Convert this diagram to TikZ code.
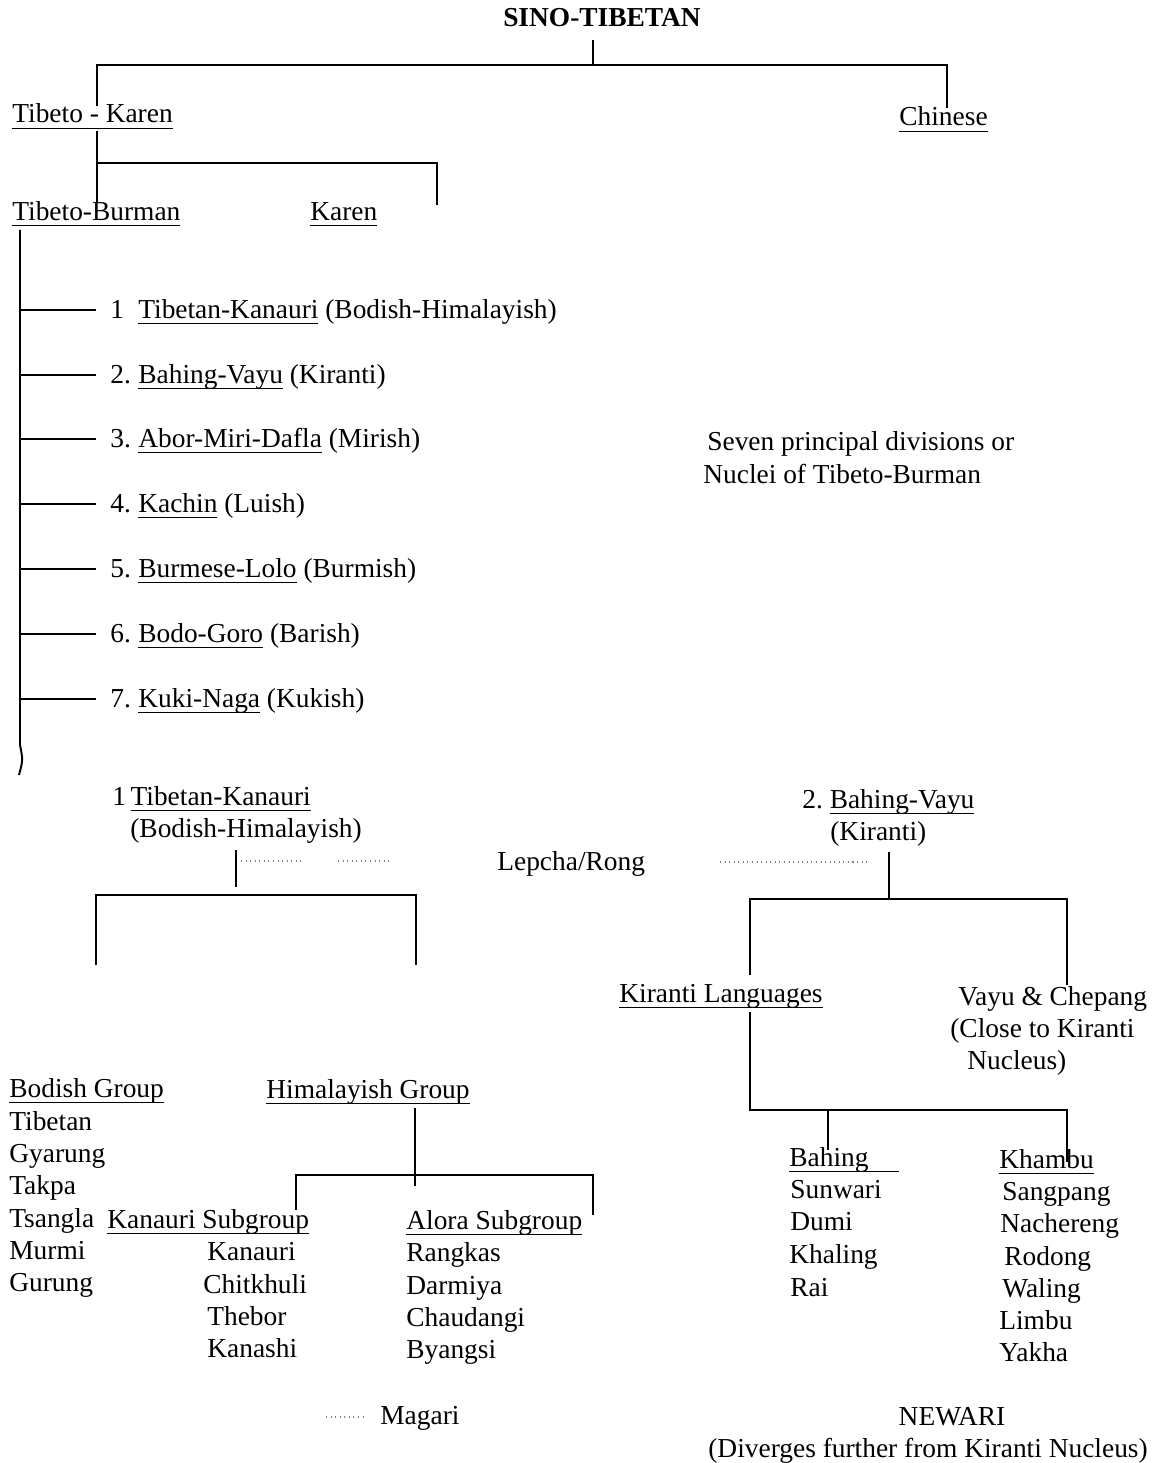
\documentclass[tikz,border=0pt]{standalone}
\usepackage{fontspec}
\setmainfont{Liberation Serif}
\newcommand\fsz{\fontsize{15.6pt}{18pt}\selectfont}
\newcommand\undl[1]{\setbox0\hbox{#1}\rlap{\rule[-3.6pt]{\wd0}{0.75pt}}\box0\relax}
\newcommand\numbox[1]{\hbox to 0.56cm{#1\hfil}}
\tikzset{
  lbl/.style={anchor=base west, inner sep=0pt, font=\fsz},
  lbc/.style={anchor=base, inner sep=0pt, font=\fsz},
  conn/.style={line width=1.1pt, black},
  dotln/.style={dotted, line width=0.6pt, gray}
}
\begin{document}
\begin{tikzpicture}[x=0.02cm,y=-0.02cm]
\useasboundingbox (0,0) rectangle (1156,1463);
% ---------- top levels
\node[lbc,font=\fsz\bfseries] (ST) at (602,27) {SINO-TIBETAN};
\node[lbl] (TK) at (12,123) {\undl{Tibeto - Karen}};
\node[lbl] (CH) at (899,126) {\undl{Chinese}};
\node[lbl] (TB) at (12,220) {\undl{Tibeto-Burman}};
\node[lbl] (KA) at (310,220) {\undl{Karen}};
% junction coordinates
\coordinate (s0) at (593,40);
\coordinate (s1) at (593,65);
\coordinate (l1) at (97,65);
\coordinate (r1) at (947,65);
\coordinate (tkin) at (97,106);
\coordinate (chin) at (947,108);
\draw[conn] (s0) -- (s1);
\draw[conn] (tkin) -- (l1) -- (r1) -- (chin);
\coordinate (tkout) at (97,131);
\coordinate (tbin) at (97,203);
\coordinate (j2) at (97,163);
\coordinate (r2) at (437,163);
\coordinate (kain) at (437,205);
\draw[conn] (tkout) -- (tbin);
\draw[conn] (j2) -- (r2) -- (kain);
% ---------- seven nuclei
\coordinate (tbout) at (20,230);
\coordinate (tbend) at (20,745);
\coordinate (tbtail) at (19,775);
\draw[conn] (tbout) -- (tbend) .. controls (23,760) .. (tbtail);
\foreach \n/\y/\txt in {1/318/{\numbox{1}\undl{Tibetan-Kanauri} (Bodish-Himalayish)},
                       2/383/{\numbox{2.}\undl{Bahing-Vayu} (Kiranti)},
                       3/447/{\numbox{3.}\undl{Abor-Miri-Dafla} (Mirish)},
                       4/512/{\numbox{4.}\undl{Kachin} (Luish)},
                       5/577/{\numbox{5.}\undl{Burmese-Lolo} (Burmish)},
                       6/642/{\numbox{6.}\undl{Bodo-Goro} (Barish)},
                       7/707/{\numbox{7.}\undl{Kuki-Naga} (Kukish)}}{
  \node[lbl] (i\n) at (110,\y) {\txt};
  \coordinate (b\n) at (20,\y-8);
  \coordinate (e\n) at (96,\y-8);
  \draw[conn] (b\n) -- (e\n);
}
\node[lbl] (sev) at (707,450) {Seven principal divisions or};
\node[lbl] (nuc) at (703,483) {Nuclei of Tibeto-Burman};
% ---------- Tibetan-Kanauri branch
\node[lbl] (tka) at (112,805) {1\,\undl{Tibetan-Kanauri}};
\node[lbl] (tkb) at (130,837) {(Bodish-Himalayish)};
\node[lbl] (lep) at (497,870) {Lepcha/Rong};
\coordinate (tks0) at (236,850);
\coordinate (tks1) at (236,887);
\draw[conn] (tks0) -- (tks1);
\coordinate (d1a) at (241,861);
\coordinate (d1b) at (302,861);
\coordinate (d1c) at (338,861);
\coordinate (d1d) at (392,861);
\draw[dotln] (d1a) -- (d1b);
\draw[dotln] (d1c) -- (d1d);
\coordinate (bxl) at (96,965);
\coordinate (bxtl) at (96,895);
\coordinate (bxtr) at (416,895);
\coordinate (bxr) at (416,965);
\draw[conn] (bxl) -- (bxtl) -- (bxtr) -- (bxr);
% Bodish group
\node[lbl] (bg) at (9,1097) {\undl{Bodish Group}};
\foreach \n/\y/\w in {1/1130/Tibetan,2/1162/Gyarung,3/1194/Takpa,4/1227/Tsangla,5/1259/Murmi,6/1291/Gurung}{
  \node[lbl] (bg\n) at (9,\y) {\w};
}
% Himalayish group
\node[lbl] (hg) at (266,1098) {\undl{Himalayish Group}};
\coordinate (hs0) at (415,1108);
\coordinate (hs1) at (415,1186);
\draw[conn] (hs0) -- (hs1);
\coordinate (hl) at (296,1210);
\coordinate (htl) at (296,1175);
\coordinate (htr) at (593,1175);
\coordinate (hr) at (593,1215);
\draw[conn] (hl) -- (htl) -- (htr) -- (hr);
\node[lbl] (ks) at (107,1228) {\undl{Kanauri Subgroup}};
\node[lbl] (ks1) at (207,1260) {Kanauri};
\node[lbl] (ks2) at (203,1293) {Chitkhuli};
\node[lbl] (ks3) at (207,1325) {Thebor};
\node[lbl] (ks4) at (207,1357) {Kanashi};
\node[lbl] (as) at (406,1229) {\undl{Alora Subgroup}};
\node[lbl] (as1) at (406,1261) {Rangkas};
\node[lbl] (as2) at (406,1294) {Darmiya};
\node[lbl] (as3) at (406,1326) {Chaudangi};
\node[lbl] (as4) at (406,1358) {Byangsi};
\coordinate (mg0) at (326,1417);
\coordinate (mg1) at (366,1417);
\draw[dotln] (mg0) -- (mg1);
\node[lbl] (mag) at (380,1424) {Magari};
% ---------- Bahing-Vayu branch
\node[lbl] (bva) at (802,808) {2.\ \undl{Bahing-Vayu}};
\node[lbl] (bvb) at (830,840) {(Kiranti)};
\coordinate (d2a) at (720,862);
\coordinate (d2b) at (868,862);
\draw[dotln] (d2a) -- (d2b);
\coordinate (bvs0) at (889,852);
\coordinate (bvs1) at (889,899);
\draw[conn] (bvs0) -- (bvs1);
\coordinate (kl0) at (750,975);
\coordinate (ktl) at (750,899);
\coordinate (ktr) at (1067,899);
\coordinate (vc0) at (1067,985);
\draw[conn] (kl0) -- (ktl) -- (ktr) -- (vc0);
\node[lbl] (kl) at (619,1002) {\undl{Kiranti Languages}};
\node[lbl] (vc) at (958,1005) {Vayu \& Chepang};
\node[lbl] (vc2) at (950,1037) {(Close to Kiranti};
\node[lbl] (vc3) at (967,1069) {Nucleus)};
\coordinate (kls0) at (750,1012);
\coordinate (kls1) at (750,1110);
\coordinate (kr1) at (1067,1110);
\coordinate (kbin) at (1067,1162);
\draw[conn] (kls0) -- (kls1) -- (kr1) -- (kbin);
\coordinate (bhj) at (828,1110);
\coordinate (bhin) at (828,1150);
\draw[conn] (bhj) -- (bhin);
\node[lbl] (bh) at (789,1166) {\undl{Bahing\hspace{0.6cm}}};
\node[lbl] (bh1) at (790,1198) {Sunwari};
\node[lbl] (bh2) at (790,1230) {Dumi};
\node[lbl] (bh3) at (789,1263) {Khaling};
\node[lbl] (bh4) at (790,1296) {Rai};
\node[lbl] (kb) at (999,1168) {\undl{Khambu}};
\node[lbl] (kb1) at (1002,1200) {Sangpang};
\node[lbl] (kb2) at (1000,1232) {Nachereng};
\node[lbl] (kb3) at (1004,1265) {Rodong};
\node[lbl] (kb4) at (1002,1297) {Waling};
\node[lbl] (kb5) at (999,1329) {Limbu};
\node[lbl] (kb6) at (999,1361) {Yakha};
\node[lbc] (new) at (952,1425) {NEWARI};
\node[lbl] (new2) at (708,1457) {(Diverges further from Kiranti Nucleus)};
\end{tikzpicture}
\end{document}
